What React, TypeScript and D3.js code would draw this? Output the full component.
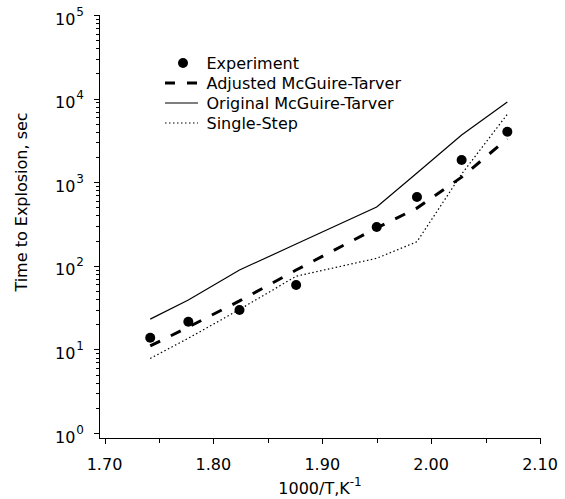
import * as d3 from "d3"

// inverse temperature, 1000/T (K^-1)
const invTemp = [1.742, 1.777, 1.824, 1.876, 1.95, 1.987, 2.028, 2.07]
// time to explosion, sec
const experiment = [13.8, 21.4, 29.6, 59, 291, 665, 1845, 4020]
const adjustedMT = [11, 18.5, 38, 89, 283, 490, 1150, 3300]
const originalMT = [23, 39, 89, 182, 505, 1290, 3670, 9100]
const singleStep = [7.8, 13.6, 30, 75, 123, 194, 1250, 6500]

const xTicks = [1.7, 1.8, 1.9, 2.0, 2.1]
const xMinorTicks = [1.75, 1.85, 1.95, 2.05]
const yDecades = [0, 1, 2, 3, 4, 5]

const legendItems = ["Experiment", "Adjusted McGuire-Tarver", "Original McGuire-Tarver", "Single-Step"]

const W = 565
const H = 499
const font = "'DejaVu Sans', sans-serif"

export default function App() {
  const x = d3.scaleLinear().domain([1.7, 2.1]).range([104.5, 540])
  const y = d3.scaleLog().domain([1, 1e5]).range([433, 15])
  const axisLeft = 99.5
  const axisBottom = 438.5

  const line = (vals: number[]) =>
    d3
      .line<number>()
      .x((_, i) => x(invTemp[i]))
      .y((d) => y(d))(vals) ?? ""

  // minor log ticks 2..9 in each decade
  const yMinor: number[] = []
  for (let p = 0; p < 5; p++) {
    for (let k = 2; k <= 9; k++) yMinor.push(k * Math.pow(10, p))
  }

  const lx = 165
  const ly0 = 63
  const lstep = 20

  return (
    <svg
      width={W}
      height={H}
      style={{ position: "absolute", left: 0, top: 0, background: "#fff" }}
      fontFamily={font}
    >
      {/* axes */}
      <g stroke="#000" strokeWidth={1} shapeRendering="crispEdges">
        <line x1={axisLeft} x2={axisLeft} y1={y(1e5)} y2={axisBottom} />
        <line x1={axisLeft} x2={540.5} y1={axisBottom} y2={axisBottom} />
        {xTicks.map((t) => (
          <line key={t} x1={Math.round(x(t)) + 0.5} x2={Math.round(x(t)) + 0.5} y1={axisBottom} y2={axisBottom + 5} />
        ))}
        {xMinorTicks.map((t) => (
          <line key={t} x1={Math.round(x(t)) + 0.5} x2={Math.round(x(t)) + 0.5} y1={axisBottom} y2={axisBottom + 4} />
        ))}
        {yDecades.map((p) => (
          <line key={p} x1={axisLeft - 6} x2={axisLeft} y1={Math.round(y(Math.pow(10, p))) + 0.5} y2={Math.round(y(Math.pow(10, p))) + 0.5} />
        ))}
        {yMinor.map((v) => (
          <line key={v} x1={axisLeft - 4} x2={axisLeft} y1={Math.round(y(v)) + 0.5} y2={Math.round(y(v)) + 0.5} />
        ))}
      </g>

      {/* tick labels */}
      <g fontSize={16} fill="#000">
        {xTicks.map((t) => (
          <text key={t} x={x(t)} y={470} textAnchor="middle">
            {t.toFixed(2)}
          </text>
        ))}
        {yDecades.map((p) => (
          <text key={p} x={84} y={y(Math.pow(10, p)) + 9.5} textAnchor="end">
            10
            <tspan fontSize={12} dy={-9} dx={1}>
              {p}
            </tspan>
          </text>
        ))}
      </g>

      {/* axis titles */}
      <text x={320} y={494} textAnchor="middle" fontSize={16}>
        1000/T,K
        <tspan fontSize={12} dy={-8}>
          -1
        </tspan>
      </text>
      <text transform={`translate(27,202) rotate(-90)`} textAnchor="middle" fontSize={16}>
        Time to Explosion, sec
      </text>

      {/* series */}
      <path d={line(originalMT)} fill="none" stroke="#000" strokeWidth={1.2} />
      <path d={line(adjustedMT)} fill="none" stroke="#000" strokeWidth={3} strokeDasharray="11,12" />
      <path d={line(singleStep)} fill="none" stroke="#000" strokeWidth={1.2} strokeDasharray="1.5,2.5" />
      {experiment.map((v, i) => (
        <circle key={i} cx={x(invTemp[i])} cy={y(v)} r={5} fill="#000" />
      ))}

      {/* legend */}
      <g fontSize={16}>
        <circle cx={183} cy={ly0} r={5} fill="#000" />
        <line x1={lx} x2={198} y1={ly0 + lstep} y2={ly0 + lstep} stroke="#000" strokeWidth={3} strokeDasharray="10,12" />
        <line x1={lx} x2={198} y1={ly0 + 2 * lstep} y2={ly0 + 2 * lstep} stroke="#000" strokeWidth={1.2} />
        <line x1={lx} x2={198} y1={ly0 + 3 * lstep} y2={ly0 + 3 * lstep} stroke="#000" strokeWidth={1.2} strokeDasharray="1.5,2.5" />
        {legendItems.map((t, i) => (
          <text key={t} x={206.5} y={ly0 + i * lstep + 5.5}>
            {t}
          </text>
        ))}
      </g>
    </svg>
  )
}
